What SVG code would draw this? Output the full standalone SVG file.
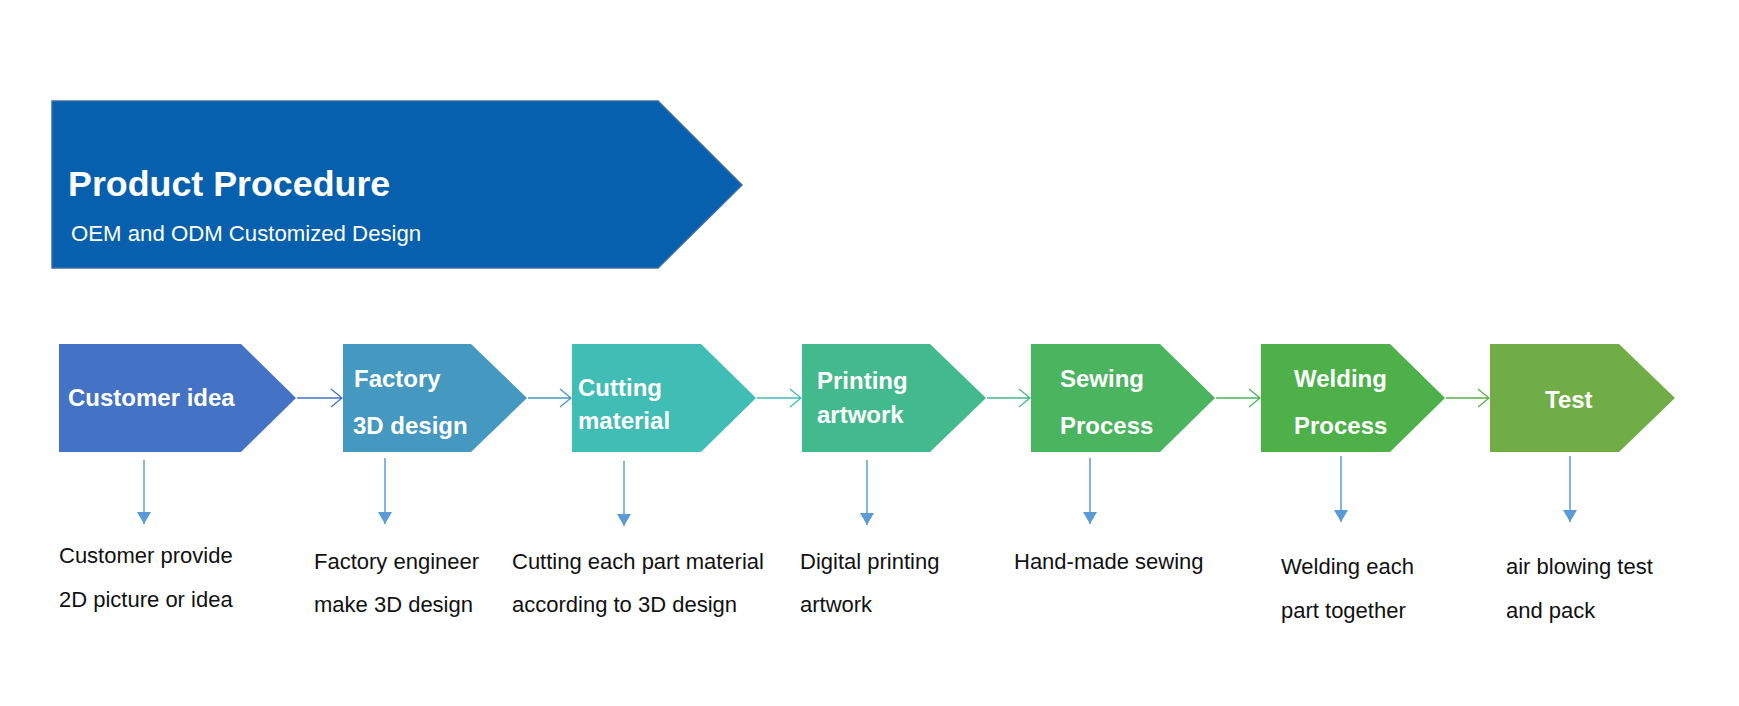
<svg xmlns="http://www.w3.org/2000/svg" width="1739" height="706" viewBox="0 0 1739 706">
<style>
.step{stroke:none}
.lbl{font-family:"Liberation Sans",Arial,sans-serif;font-weight:bold;font-size:24px;fill:#ffffff}
.desc{font-family:"Liberation Sans",Arial,sans-serif;font-size:22px;fill:#111111}
.down{stroke:#5B9BD5;stroke-width:1.5;fill:none}
.hz{stroke-width:1.3;fill:none}
</style>
<defs>
<marker id="tri" viewBox="0 0 12 14" refX="12" refY="7" markerWidth="12" markerHeight="14" markerUnits="userSpaceOnUse" orient="auto">
<path d="M0,0 L12,7 L0,14 Z" fill="#5B9BD5"/>
</marker>
</defs>
<rect width="1739" height="706" fill="#ffffff"/>
<g id="banner">
<polygon points="52,101 658,101 742,185 658,268 52,268" fill="#0660AE" stroke="#3A6FA8" stroke-width="1.5"/>
<text x="68" y="196" font-family="'Liberation Sans',Arial,sans-serif" font-weight="bold" font-size="35.8" fill="#ffffff">Product Procedure</text>
<text x="71" y="241" font-family="'Liberation Sans',Arial,sans-serif" font-size="22.2" fill="#ffffff">OEM and ODM Customized Design</text>
</g>
<g id="step1">
<polygon class="step" points="59,344 241,344 296,398 241,452 59,452" fill="#4472C4"/>
<text class="lbl" x="68" y="406">Customer idea</text>
</g>
<g id="step2">
<polygon class="step" points="343,344 471,344 527,398 471,452 343,452" fill="#4598C0"/>
<text class="lbl" x="354" y="387">Factory</text>
<text class="lbl" x="353" y="434">3D design</text>
</g>
<g id="step3">
<polygon class="step" points="572,344 701,344 756,398 701,452 572,452" fill="#40BDB5"/>
<text class="lbl" x="578" y="396">Cutting</text>
<text class="lbl" x="578" y="429">material</text>
</g>
<g id="step4">
<polygon class="step" points="802,344 930,344 986,398 930,452 802,452" fill="#43BA8D"/>
<text class="lbl" x="817" y="389">Printing</text>
<text class="lbl" x="817" y="423">artwork</text>
</g>
<g id="step5">
<polygon class="step" points="1031,344 1160,344 1215,398 1160,452 1031,452" fill="#4AB45E"/>
<text class="lbl" x="1060" y="387">Sewing</text>
<text class="lbl" x="1060" y="434">Process</text>
</g>
<g id="step6">
<polygon class="step" points="1261,344 1390,344 1445,398 1390,452 1261,452" fill="#4DB049"/>
<text class="lbl" x="1294" y="387">Welding</text>
<text class="lbl" x="1294" y="434">Process</text>
</g>
<g id="step7">
<polygon class="step" points="1490,344 1619,344 1675,398 1619,452 1490,452" fill="#70AD47"/>
<text class="lbl" x="1545" y="408">Test</text>
</g>
<g id="desc1"><text class="desc" x="59" y="563">Customer provide</text><text class="desc" x="59" y="607">2D picture or idea</text></g>
<g id="desc2"><text class="desc" x="314" y="569">Factory engineer</text><text class="desc" x="314" y="612">make 3D design</text></g>
<g id="desc3"><text class="desc" x="512" y="569">Cutting each part material</text><text class="desc" x="512" y="612">according to 3D design</text></g>
<g id="desc4"><text class="desc" x="800" y="569">Digital printing</text><text class="desc" x="800" y="612">artwork</text></g>
<g id="desc5"><text class="desc" x="1014" y="569">Hand-made sewing</text></g>
<g id="desc6"><text class="desc" x="1281" y="574">Welding each</text><text class="desc" x="1281" y="618">part together</text></g>
<g id="desc7"><text class="desc" x="1506" y="574">air blowing test</text><text class="desc" x="1506" y="618">and pack</text></g>
<g id="connectors">
<path class="hz" stroke="#4472C4" d="M297,398 H342 M331,389 L342,398 L331,407"/>
<path class="hz" stroke="#4598C0" d="M528,398 H571 M560,389 L571,398 L560,407"/>
<path class="hz" stroke="#40BDB5" d="M757,398 H801 M790,389 L801,398 L790,407"/>
<path class="hz" stroke="#43BA8D" d="M987,398 H1030 M1019,389 L1030,398 L1019,407"/>
<path class="hz" stroke="#4AB45E" d="M1216,398 H1260 M1249,389 L1260,398 L1249,407"/>
<path class="hz" stroke="#5FAF48" d="M1446,398 H1489 M1478,389 L1489,398 L1478,407"/>
<line class="down" x1="144" y1="460" x2="144" y2="524" marker-end="url(#tri)"/>
<line class="down" x1="385" y1="458" x2="385" y2="524" marker-end="url(#tri)"/>
<line class="down" x1="624" y1="461" x2="624" y2="526" marker-end="url(#tri)"/>
<line class="down" x1="867" y1="460" x2="867" y2="525" marker-end="url(#tri)"/>
<line class="down" x1="1090" y1="458" x2="1090" y2="524" marker-end="url(#tri)"/>
<line class="down" x1="1341" y1="456" x2="1341" y2="522" marker-end="url(#tri)"/>
<line class="down" x1="1570" y1="456" x2="1570" y2="522" marker-end="url(#tri)"/>
</g>
</svg>
